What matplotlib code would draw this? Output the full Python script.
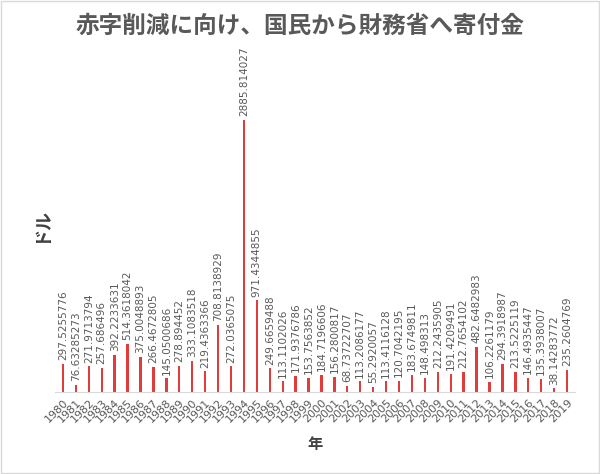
import matplotlib
matplotlib.use("Agg")
import matplotlib.pyplot as plt
from matplotlib.patches import Rectangle

years = list(range(1980, 2020))
labels = ["297.5255776","76.63285273","271.9713794","257.686496","392.2233631","514.3618042",
"375.0048893","266.4672805","145.0500686","278.894452","333.1083518","219.4363366","708.8138929",
"272.0365075","2885.814027","971.4344855","249.6659488","113.1102026","171.9376786","153.7563852",
"184.7196606","156.2800817","68.73722707","113.2086177","55.2920057","113.4116128","120.7042195",
"183.6749811","148.498313","212.2435905","191.4209491","212.7654102","482.6482983","106.2261179",
"294.3918987","213.5225119","146.4935447","135.3938007","38.14283772","235.2604769"]
values = [float(s) for s in labels]

plt.rcParams["font.family"] = ["Noto Sans CJK JP"]
fig = plt.figure(figsize=(6, 4.74), dpi=100)
fig.patches.append(Rectangle((0.002, 0.002), 0.996, 0.996, transform=fig.transFigure,
                             fill=False, edgecolor="#d9d9d9", lw=1))
ax = fig.add_axes([0.092, 0.173, 0.866, 0.70])
x = list(range(len(years)))
ax.bar(x, values, width=0.18, color="#E03C3C")
for xi, v, s in zip(x, values, labels):
    ax.text(xi, v + 40, s, rotation=90, ha="center", va="bottom", fontsize=7.5, color="#595959",
            family="DejaVu Sans")
ax.set_xlim(-0.6, len(years) - 0.4)
ax.set_ylim(0, 3520)
ax.set_xticks(x)
ax.set_xticklabels([str(y) for y in years], rotation=45, ha="right", rotation_mode="anchor",
                   fontsize=8, color="#595959", family="DejaVu Sans")
ax.tick_params(axis="x", length=0, pad=4)
ax.set_yticks([])
for sp in ["top", "right", "left"]:
    ax.spines[sp].set_visible(False)
ax.spines["bottom"].set_color("#d9d9d9")
fig.text(0.5, 0.945, "赤字削減に向け、国民から財務省へ寄付金", ha="center", va="center",
         fontsize=17, color="#595959", fontweight="bold")
fig.text(0.068, 0.525, "ドル", rotation=90, ha="center", va="center", fontsize=13,
         color="#404040", fontweight="bold")
fig.text(0.525, 0.063, "年", ha="center", va="center", fontsize=11, color="#404040",
         fontweight="bold")
fig.savefig("out.png", dpi=100)
